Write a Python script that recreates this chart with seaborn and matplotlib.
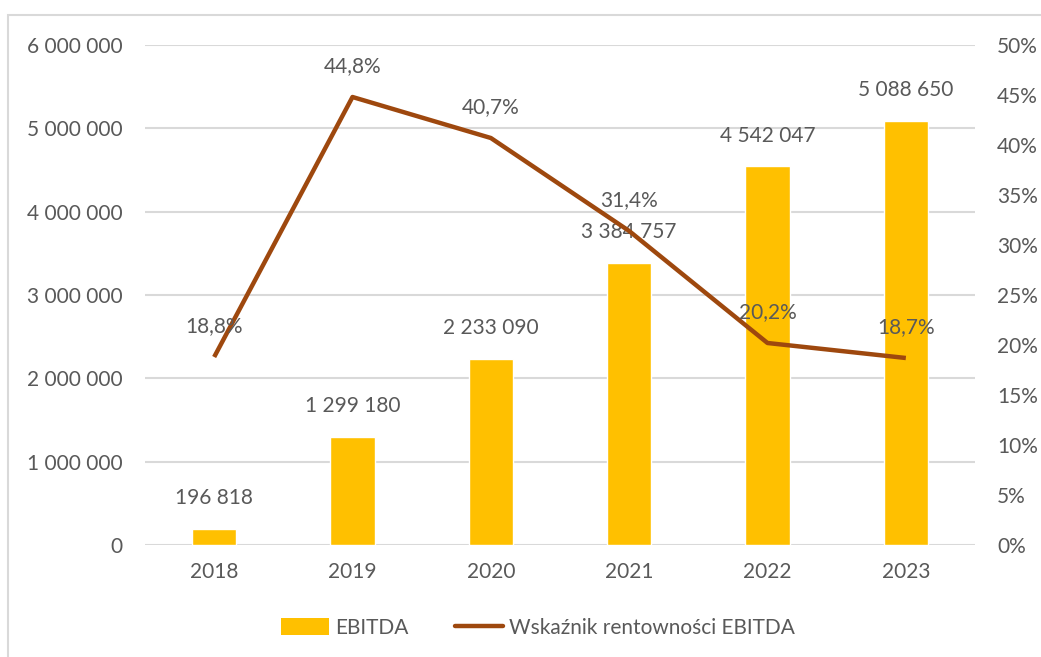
import numpy as np
import pandas as pd
import matplotlib
matplotlib.use("Agg")
import matplotlib.pyplot as plt
import seaborn as sns
from matplotlib.patches import Rectangle, Patch
from matplotlib.lines import Line2D
from matplotlib.ticker import FuncFormatter, MultipleLocator

years = ["2018", "2019", "2020", "2021", "2022", "2023"]
ebitda = [196818, 1299180, 2233090, 3384757, 4542047, 5088650]
margin = [18.8, 44.8, 40.7, 31.4, 20.2, 18.7]
bar_name = "EBITDA"
line_name = "Wskaźnik rentowności EBITDA"

sns.set_style("white")
plt.rcParams["font.family"] = ["Lato", "DejaVu Sans"]

BAR = "#FFC000"
LINE = "#9E480E"
TXT = "#595959"
GRID = "#D9D9D9"
FS = 15

fig = plt.figure(figsize=(10.41, 6.57), dpi=100)
ax = fig.add_axes([145/1041, 1-545/657, (975-145)/1041, (545-45)/657])

df = pd.DataFrame({"year": years, "ebitda": ebitda, "margin": margin})
sns.barplot(data=df, x="year", y="ebitda", color=BAR, width=0.32, ax=ax,
            saturation=1, zorder=3)
ax.set_ylim(0, 6000000)
ax.set_xlim(-0.5, len(years) - 0.5)
ax.yaxis.set_major_locator(MultipleLocator(1000000))
ax.yaxis.set_major_formatter(FuncFormatter(lambda v, p: f"{int(v):,}".replace(",", " ")))
ax.grid(axis="y", color=GRID, linewidth=1.5, zorder=0)
ax.set_axisbelow(True)
for s in ax.spines.values():
    s.set_visible(False)
ax.set_xlabel("")
ax.set_ylabel("")
ax.tick_params(axis="both", length=0, labelsize=FS, labelcolor=TXT)
ax.tick_params(axis="y", pad=16)
ax.tick_params(axis="x", pad=12)

for i, v in enumerate(ebitda):
    ax.annotate(f"{v:,}".replace(",", " "), (i, v), xytext=(0, 22),
                textcoords="offset points", ha="center", va="center",
                fontsize=FS, color=TXT, zorder=5)

ax2 = ax.twinx()
sns.lineplot(x=np.arange(len(years)), y=df["margin"], color=LINE, linewidth=3.2,
             ax=ax2, zorder=4, solid_capstyle="butt")
ax2.set_ylim(0, 50)
ax2.set_xlim(-0.5, len(years) - 0.5)
ax2.yaxis.set_major_locator(MultipleLocator(5))
ax2.yaxis.set_major_formatter(FuncFormatter(lambda v, p: f"{int(round(v))}%"))
for s in ax2.spines.values():
    s.set_visible(False)
ax2.set_ylabel("")
ax2.tick_params(axis="y", length=0, labelsize=FS, labelcolor=TXT, pad=16)
for i, m in enumerate(margin):
    ax2.annotate(f"{m:.1f}%".replace(".", ","), (i, m), xytext=(0, 22),
                 textcoords="offset points", ha="center", va="center",
                 fontsize=FS, color=TXT, zorder=6)

handles = [Patch(facecolor=BAR, edgecolor="none"),
           Line2D([0], [0], color=LINE, linewidth=3.2)]
fig.legend(handles, [bar_name, line_name], loc="center", ncol=2,
           bbox_to_anchor=(538/1041, 1-628/657), frameon=False,
           fontsize=FS, labelcolor=TXT, handlelength=2.3, handleheight=0.9,
           columnspacing=2.2, handletextpad=0.3)

fig.patches.append(Rectangle((8/1041, -0.1), 2, 1 - 15/657 + 0.1,
                             transform=fig.transFigure, fill=False,
                             edgecolor=GRID, linewidth=1.5))

fig.savefig("out.png", dpi=100)
